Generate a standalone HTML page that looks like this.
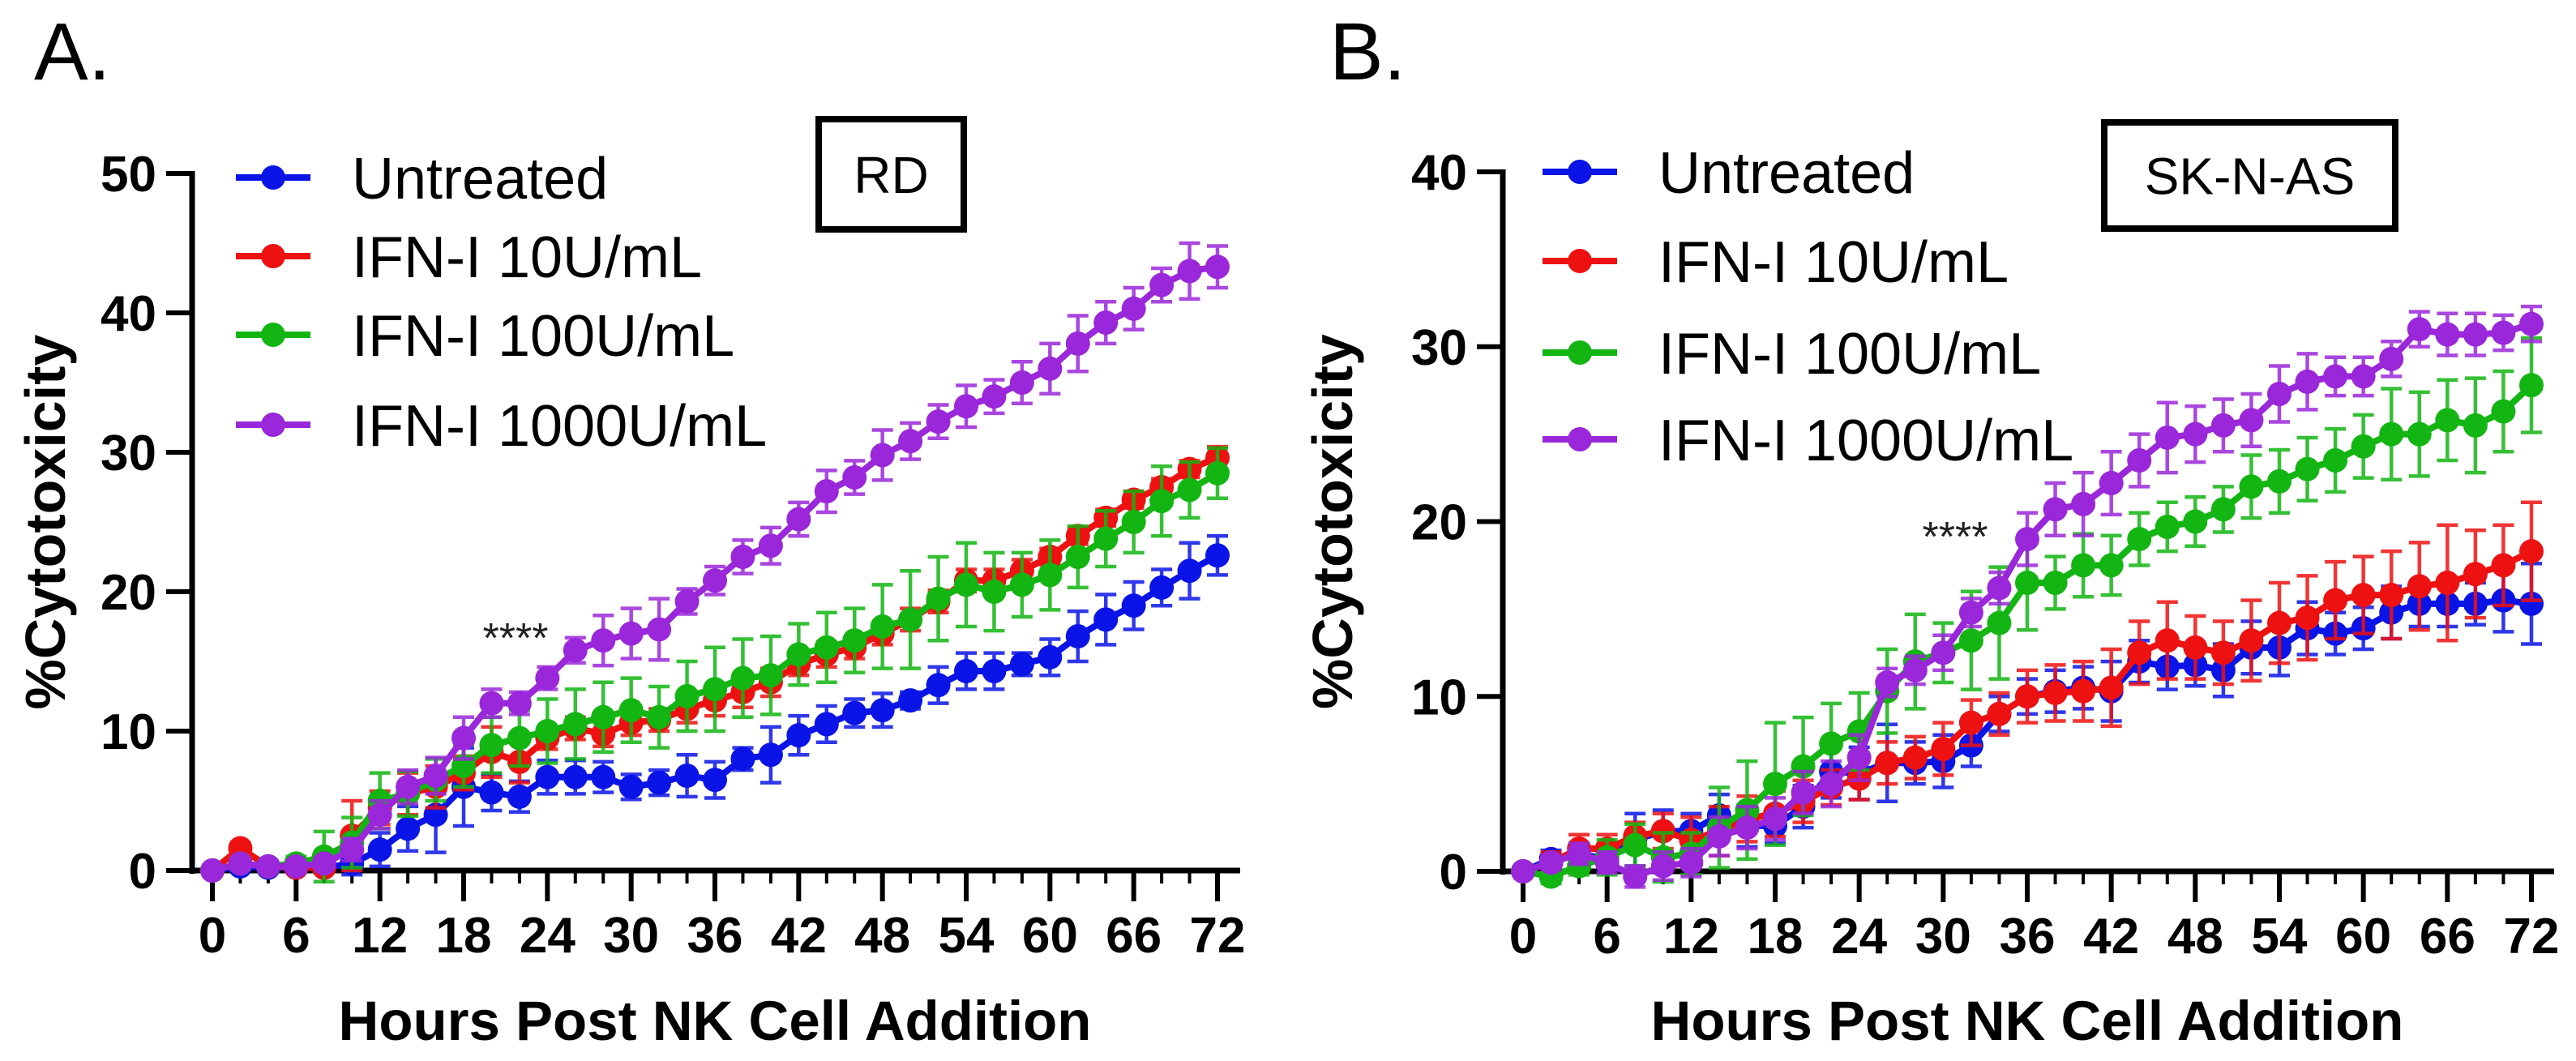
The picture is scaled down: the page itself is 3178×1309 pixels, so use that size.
<!DOCTYPE html>
<html><head><meta charset="utf-8"><style>
html,body{margin:0;padding:0;background:#fff;}
svg{display:block;font-family:"Liberation Sans",sans-serif;}
</style></head><body>
<svg id="chart" width="3178" height="1309" viewBox="0 0 3178 1309" xmlns="http://www.w3.org/2000/svg">
<rect width="3178" height="1309" fill="#fff"/>
</svg>
<script>
const hours = [0,2,4,6,8,10,12,14,16,18,20,22,24,26,28,30,32,34,36,38,40,42,44,46,48,50,52,54,56,58,60,62,64,66,68,70,72];
const xTicks = [0,6,12,18,24,30,36,42,48,54,60,66,72];
const yTicksA = [0,10,20,30,40,50];
const yTicksB = [0,10,20,30,40];
const seriesNames = ["Untreated","IFN-I 10U/mL","IFN-I 100U/mL","IFN-I 1000U/mL"];
const seriesColors = ["#0a14e6","#ee1111","#12b512","#9a27d9"];

const aUntreated = [0,0.3,0.2,0.2,0.2,0.5,1.5,3,4,6,5.6,5.3,6.7,6.7,6.7,6,6.3,6.8,6.5,8,8.3,9.7,10.5,11.3,11.5,12.2,13.3,14.3,14.3,14.8,15.3,16.8,18,19,20.3,21.5,22.6];
const a10 = [0,1.6,0.3,0.2,0.2,2.5,4.5,5.5,6,7,8.5,7.8,9.5,10.2,9.8,10.6,10.8,11.6,12.2,12.8,13.5,14.8,15.5,16,17,18,19.3,20.8,20.8,21.5,22.5,24,25.3,26.6,27.5,28.8,29.6];
const a100 = [0,0.5,0.3,0.5,1,2,5,5.5,6.5,7.5,9,9.5,10,10.5,11,11.5,11,12.5,13,13.8,14,15.5,16,16.5,17.5,18,19.5,20.5,20,20.5,21.2,22.5,23.8,25,26.5,27.3,28.5];
const a1000 = [0,0.5,0.3,0.3,0.5,1.5,4,6,6.8,9.5,12,12,13.8,15.8,16.5,17,17.3,19.3,20.8,22.5,23.3,25.2,27.2,28.2,29.8,30.8,32.2,33.3,34,35,36,37.8,39.3,40.3,42,43,43.3];
const aErrUntreated = [0,0.3,0.3,0.3,0.3,0.8,1.2,1.6,2.7,2.8,1.3,1.1,1.2,1.2,1.1,0.9,0.9,1.5,1.3,0.8,2,1.4,1.3,1,1.2,0.6,1.3,1.3,1.3,0.8,1.3,1.8,1.8,1.7,1.3,2,1.4];
const aErr10 = [0,0.4,0.3,0.3,0.3,2.5,1.2,1.5,1.5,1.2,1.8,1.5,0.8,0.8,0.9,0.9,0.8,1,1.1,1.1,1,0.8,0.9,0.8,0.8,0.8,0.8,0.8,0.8,0.8,0.6,0.6,0.6,0.6,0.6,0.6,0.8];
const aErr100 = [0,0.4,0.4,0.5,1.8,1.8,2,1.6,1.5,1.5,2,2,2.3,2.5,2.5,2.3,2.2,2.5,3,2.8,2.8,2.2,2.5,2.3,3,3.5,3,3,2.8,2.3,2.5,2.2,2,2.2,2.5,2,1.8];
const aErr1000 = [0,0.3,0.3,0.3,0.4,0.8,1,1.2,1.3,1.5,1,0.8,0.8,0.9,1.8,1.8,2.2,0.9,1,1.2,1.3,1.2,1.5,1.2,1.8,1.3,1.2,1.5,1.2,1.5,1.8,2,1.5,1.5,1.2,2,1.5];

const bUntreated = [0,0.7,1,0.7,1.8,2.3,2.3,3.2,2.6,2.6,3.7,5.7,5.6,6.2,6.2,6.3,7.2,9,10,10.3,10.5,10.3,12,11.7,11.8,11.5,12.8,12.8,13.9,13.6,13.9,14.8,15.3,15.3,15.3,15.5,15.3];
const b10 = [0,0.5,1.3,1.3,2,2.3,1.8,2.3,3,3.3,4,4.8,5.3,6.2,6.5,7,8.5,9,10,10.2,10.3,10.5,12.5,13.2,12.8,12.5,13.2,14.2,14.5,15.5,15.8,15.8,16.3,16.5,17,17.5,18.3];
const b100 = [0,-0.3,0.3,0.8,1.5,0.8,1,2.5,3.5,5,6,7.3,8,10.3,12,12.5,13.2,14.2,16.5,16.5,17.5,17.5,19,19.7,20,20.7,22,22.3,23,23.5,24.3,25,25,25.8,25.5,26.3,27.8];
const b1000 = [0,0.5,1,0.5,-0.3,0.3,0.5,2,2.5,3,4.5,5,6.5,10.8,11.5,12.5,14.8,16.2,19,20.7,21,22.2,23.5,24.8,25,25.5,25.8,27.3,28,28.3,28.3,29.3,31,30.7,30.7,30.8,31.3];
const bErrUntreated = [0,0.5,0.6,0.6,1.5,1.2,1,1.2,1.2,1,1.2,1.5,1.5,2.2,1.2,1.5,1.2,1,1,1.2,1.2,1.7,1.2,1.3,1.2,1.5,1.5,1.6,1.5,1.2,1.2,1.5,1.3,1.3,1.2,1.8,2.3];
const bErr10 = [0,0.6,0.8,0.8,0.8,1,1.3,1.4,1.3,1.3,1.2,1,1.2,1.2,1.2,1.5,1.3,1.2,1.5,1.6,1.7,2.2,1.8,2.2,1.8,1.8,2.3,2.3,2.4,2.2,2.2,2.5,2.5,3.3,2.5,2.3,2.8];
const bErr100 = [0,0.4,0.5,1,1.2,1.4,1.2,2.3,2.8,3.5,2.8,2.3,2.2,2.4,2.7,1.7,2.8,3.2,2.7,1.5,1.8,1.7,1.5,1.4,1.4,1.3,1.8,1.8,1.8,1.8,1.8,2.6,2.4,2.3,2.7,2.3,2.7];
const bErr1000 = [0,0.4,0.6,0.6,0.6,0.8,0.8,1.1,1.2,1.2,1.2,1.3,1.3,0.8,0.8,1,0.8,0.9,1.5,1.5,1.8,1.8,1.5,2,1.6,1.5,1.5,1.6,1.6,1.1,1.1,1,1,1.2,1.2,1,1];

const NS = "http://www.w3.org/2000/svg";
const svg = document.getElementById("chart");
function mk(tag, attrs, parent){
  const e = document.createElementNS(NS, tag);
  for (const k in attrs) e.setAttribute(k, attrs[k]);
  (parent||svg).appendChild(e);
  return e;
}

function panel(cfg){
  const g = mk("g", {});
  
  
  const sx = t => cfg.x0 + (t/72)*(cfg.x72 - cfg.x0);
  const sy = v => cfg.y0 - (v/cfg.ymax)*(cfg.y0 - cfg.ytop);

  const L = mk("text", {x:cfg.letterX, y:98, "font-size":100, fill:"#000"}, g);
  L.textContent = cfg.letter;
  
  

  const ya = mk("line", {x1:cfg.axisX, y1:cfg.ytop-3, x2:cfg.axisX, y2:cfg.y0+4, stroke:"#000","stroke-width":7}, g);
  
  
  const xa = mk("line", {x1:cfg.axisX-3, y1:cfg.y0, x2:cfg.xEnd, y2:cfg.y0, stroke:"#000","stroke-width":7}, g);
  
  

  cfg.yTicks.forEach(v => {
    const y = sy(v);
    const tk = mk("line", {x1:cfg.axisX-32, y1:y, x2:cfg.axisX, y2:y, stroke:"#000","stroke-width":6}, g);
    
    
    const t = mk("text", {x:cfg.axisX-44, y:y+22, "font-size":62, "font-weight":"bold", "text-anchor":"end", fill:"#000"}, g);
    t.textContent = v;
    
    
  });
  hours.forEach(h => {
    const x = sx(h);
    const mt = mk("line", {x1:x, y1:cfg.y0, x2:x, y2:cfg.y0+16, stroke:"#000","stroke-width":4}, g);
    
    
  });
  xTicks.forEach(h => {
    const x = sx(h);
    const tk = mk("line", {x1:x, y1:cfg.y0, x2:x, y2:cfg.y0+38, stroke:"#000","stroke-width":6}, g);
    
    
    const t = mk("text", {x:x, y:cfg.y0+101, "font-size":62, "font-weight":"bold", "text-anchor":"middle", fill:"#000"}, g);
    t.textContent = h;
    
    
  });
  const xt = mk("text", {x:(cfg.x0+cfg.x72)/2, y:1283, "font-size":69, "font-weight":"bold", "text-anchor":"middle", fill:"#000"}, g);
  xt.textContent = "Hours Post NK Cell Addition";
  
  
  const yt = mk("text", {x:0, y:0, "font-size":70, "font-weight":"bold", "text-anchor":"middle", fill:"#000", transform:`translate(${cfg.yTitleX},${(cfg.ytop+cfg.y0)/2}) rotate(-90)`}, g);
  yt.textContent = "%Cytotoxicity";
  
  

  cfg.series.forEach((vals, si) => {
    const col = seriesColors[si];
    const errs = cfg.errs[si];
    const sg = mk("g", {}, g);
    
    
    vals.forEach((v, i) => {
      const x = sx(hours[i]), yt2 = sy(v + errs[i]), yb = sy(v - errs[i]);
      if (errs[i] > 0) {
        const eb = mk("path", {d:`M${x},${yt2}V${yb}M${x-13},${yt2}H${x+13}M${x-13},${yb}H${x+13}`, stroke:col, "stroke-width":4.5, fill:"none", opacity:0.85}, sg);
        
        
      }
    });
    const pts = vals.map((v, i) => sx(hours[i]) + "," + sy(v)).join(" ");
    const ln = mk("polyline", {points:pts, stroke:col, "stroke-width":8, fill:"none"}, sg);
    
    
    vals.forEach((v, i) => {
      const c = mk("circle", {cx:sx(hours[i]), cy:sy(v), r:15, fill:col}, sg);
      
      
    });
  });

  seriesNames.forEach((n, i) => {
    const y = cfg.legendY[i];
    const lg = mk("g", {}, g);
    
    
    mk("line", {x1:cfg.legendX, y1:y, x2:cfg.legendX+92, y2:y, stroke:seriesColors[i], "stroke-width":8}, lg);
    mk("circle", {cx:cfg.legendX+46, cy:y, r:15, fill:seriesColors[i]}, lg);
    const t = mk("text", {x:cfg.legendX+143, y:y+26, "font-size":72, fill:"#000"}, lg);
    t.textContent = n;
  });

  const bx = mk("rect", {x:cfg.box[0], y:cfg.box[1], width:cfg.box[2], height:cfg.box[3], fill:"#fff", stroke:"#000", "stroke-width":8}, g);
  
  
  const bt = mk("text", {x:cfg.box[0]+cfg.box[2]/2, y:cfg.box[1]+cfg.box[3]/2+23, "font-size":64, "text-anchor":"middle", fill:"#000"}, g);
  bt.textContent = cfg.boxText;
  
  

  const st = mk("text", {x:cfg.star[0], y:cfg.star[1], "font-size":52, fill:"#222", "text-anchor":"middle"}, g);
  st.textContent = "****";
  
  
}

panel({name:"panel-a-rd", letter:"A.", letterX:42, axisX:237, x0:262, x72:1502, xEnd:1530, y0:1074, ytop:214, ymax:50,
  yTicks:yTicksA, yTitleX:80, series:[aUntreated,a10,a100,a1000], errs:[aErrUntreated,aErr10,aErr100,aErr1000],
  legendX:291, legendY:[219,316,413,524], box:[1010,147,179,136], boxText:"RD", star:[636,805]});
panel({name:"panel-b-sk-n-as", letter:"B.", letterX:1640, axisX:1854, x0:1879, x72:3123, xEnd:3151, y0:1075, ytop:212, ymax:40,
  yTicks:yTicksB, yTitleX:1668, series:[bUntreated,b10,b100,b1000], errs:[bErrUntreated,bErr10,bErr100,bErr1000],
  legendX:1903, legendY:[212,322,435,542], box:[2596,151,359,131], boxText:"SK-N-AS", star:[2412,680]});
</script>
</body></html>
